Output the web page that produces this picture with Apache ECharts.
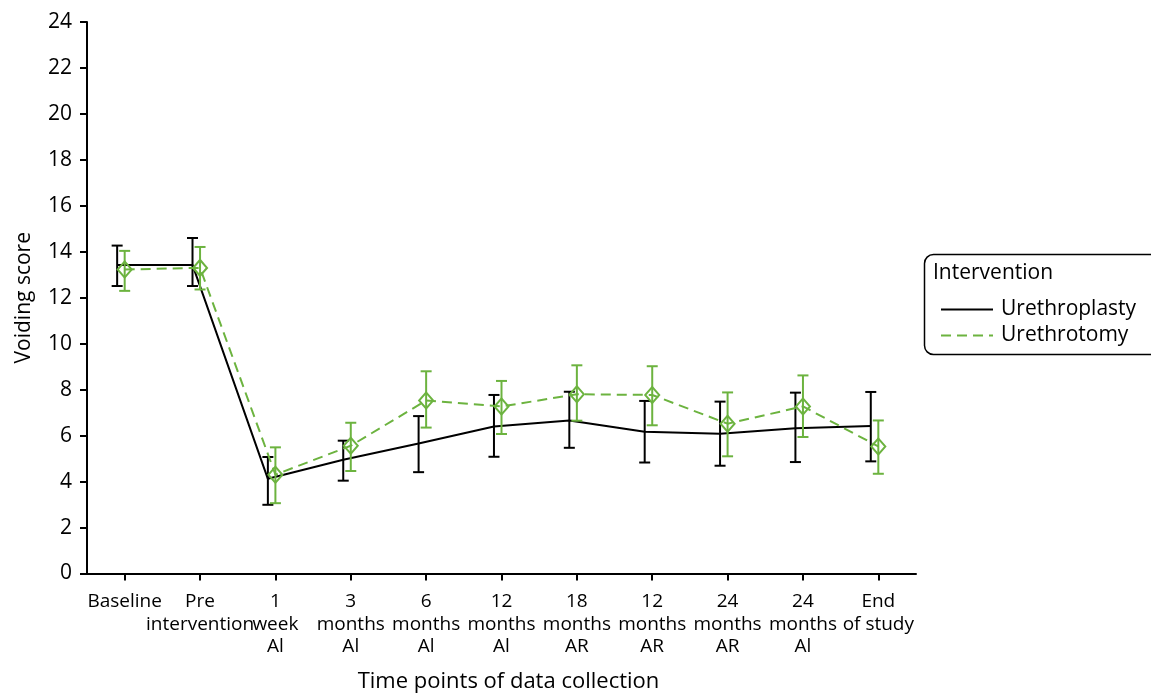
<!DOCTYPE html>
<html>
<head>
<meta charset="utf-8">
<script src="https://cdn.jsdelivr.net/npm/echarts@6/dist/echarts.min.js"></script>
<style>
html,body{margin:0;padding:0;background:#fff;}
#chart{width:1151px;height:693px;}
</style>
</head>
<body>
<div id="chart"></div>
<script>
const categories = ['Baseline', 'Pre\nintervention', '1\nweek\nAl', '3\nmonths\nAl', '6\nmonths\nAl', '12\nmonths\nAl', '18\nmonths\nAR', '12\nmonths\nAR', '24\nmonths\nAR', '24\nmonths\nAl', 'End\nof study'];
const yTicks = [0, 2, 4, 6, 8, 10, 12, 14, 16, 18, 20, 22, 24];

const urethroplastyMean = [13.43, 13.43, 4.12, 4.95, 5.66, 6.40, 6.66, 6.17, 6.08, 6.32, 6.42];
const urethroplastyLow  = [12.51, 12.51, 2.99, 4.04, 4.41, 5.08, 5.47, 4.83, 4.69, 4.85, 4.88];
const urethroplastyHigh = [14.27, 14.60, 5.07, 5.78, 6.85, 7.77, 7.91, 7.51, 7.48, 7.87, 7.90];

const urethrotomyMean = [13.23, 13.30, 4.30, 5.56, 7.53, 7.27, 7.80, 7.77, 6.52, 7.27, 5.53];
const urethrotomyLow  = [12.30, 12.36, 3.06, 4.46, 6.35, 6.07, 6.65, 6.45, 5.10, 5.94, 4.34];
const urethrotomyHigh = [14.04, 14.21, 5.49, 6.56, 8.80, 8.38, 9.06, 9.02, 7.88, 8.62, 6.66];

const BLACK = '#000000';
const GREEN = '#6cb33f';
const TEXT = '#000000';
const FONT = 'Open Sans';
const offsetBlack = -0.1;

const idx = categories.map((c, i) => i);
const evenIdx = idx.filter(i => i % 2 === 0);
const oddIdx = idx.filter(i => i % 2 === 1);
const blackLine = idx.map(i => [i + offsetBlack, urethroplastyMean[i]]);
const greenLine = idx.map(i => [i, urethrotomyMean[i]]);
const blackErr = idx.map(i => [i + offsetBlack, urethroplastyLow[i], urethroplastyHigh[i]]);
const greenErr = idx.map(i => [i, urethrotomyLow[i], urethrotomyHigh[i]]);

function errRender(color) {
  return function (params, api) {
    const x = api.value(0);
    const lo = api.coord([x, api.value(1)]);
    const hi = api.coord([x, api.value(2)]);
    const hw = 5.5;
    const style = { stroke: color, lineWidth: 2, fill: null };
    return {
      type: 'group',
      children: [
        { type: 'line', shape: { x1: hi[0], y1: hi[1], x2: lo[0], y2: lo[1] }, style: style },
        { type: 'line', shape: { x1: hi[0] - hw, y1: hi[1], x2: hi[0] + hw, y2: hi[1] }, style: style },
        { type: 'line', shape: { x1: lo[0] - hw, y1: lo[1], x2: lo[0] + hw, y2: lo[1] }, style: style }
      ]
    };
  };
}

const xLabelStyle = {
  formatter: v => categories[Math.round(v)] || '',
  fontFamily: FONT, fontSize: 19, color: TEXT, lineHeight: 22.5, margin: 17, align: 'center',
  showMinLabel: true, showMaxLabel: true, hideOverlap: false
};

const chart = echarts.init(document.getElementById('chart'), null, { renderer: 'canvas' });
chart.setOption({
  animation: false,
  backgroundColor: '#ffffff',
  textStyle: { fontFamily: FONT },
  grid: { left: 87, right: 235, top: 22, bottom: 119.5, containLabel: false, outerBoundsMode: 'none' },
  xAxis: [
    {
      type: 'value',
      min: -0.5,
      max: 10.5,
      position: 'bottom',
      splitLine: { show: false },
      axisLine: { show: true, onZero: false, lineStyle: { color: BLACK, width: 2 } },
      axisTick: { show: true, customValues: idx, length: 7, lineStyle: { color: BLACK, width: 2 } },
      axisLabel: Object.assign({ customValues: evenIdx }, xLabelStyle),
      name: 'Time points of data collection',
      nameLocation: 'middle',
      nameGap: 97,
      nameTextStyle: { fontFamily: FONT, fontSize: 22, color: TEXT, padding: [0, 0, 0, 14] }
    },
    {
      type: 'value',
      min: -0.5,
      max: 10.5,
      position: 'bottom',
      offset: 0,
      splitLine: { show: false },
      axisLine: { show: false, onZero: false },
      axisTick: { show: false },
      axisLabel: Object.assign({ customValues: oddIdx }, xLabelStyle)
    }
  ],
  yAxis: {
    type: 'value',
    min: 0,
    max: 24,
    interval: 2,
    splitLine: { show: false },
    axisLine: { show: true, onZero: false, lineStyle: { color: BLACK, width: 2 } },
    axisTick: { show: true, length: 7, lineStyle: { color: BLACK, width: 2 } },
    axisLabel: { fontFamily: FONT, fontSize: 21, color: TEXT, margin: 15,
      formatter: v => (yTicks.indexOf(v) >= 0 ? String(v) : '') },
    name: 'Voiding score',
    nameLocation: 'middle',
    nameGap: 52,
    nameTextStyle: { fontFamily: FONT, fontSize: 21, color: TEXT }
  },
  legend: {
    orient: 'vertical',
    left: 935,
    top: 294,
    itemWidth: 52,
    itemHeight: 14,
    itemGap: 5,
    itemStyle: { opacity: 0 },
    textStyle: { fontFamily: FONT, fontSize: 21, color: TEXT, padding: [0, 0, 0, 3] },
    data: ['Urethroplasty', 'Urethrotomy']
  },
  graphic: [
    {
      type: 'rect', left: 922, top: 252, z: 100,
      shape: { width: 240, height: 100, r: 9 },
      style: { fill: null, stroke: BLACK, lineWidth: 1.5 }
    },
    {
      type: 'text', left: 933, top: 263, z: 100,
      style: { text: 'Intervention', fontFamily: FONT, fontSize: 21, fill: TEXT }
    }
  ],
  series: [
    {
      name: 'Urethroplasty',
      type: 'line',
      data: blackLine,
      symbol: 'none',
      lineStyle: { color: BLACK, width: 2 },
      itemStyle: { color: BLACK },
      z: 3
    },
    {
      name: 'UrethroplastyErr',
      type: 'custom',
      data: blackErr,
      renderItem: errRender(BLACK),
      encode: { x: 0, y: [1, 2] },
      z: 3
    },
    {
      name: 'Urethrotomy',
      type: 'line',
      data: greenLine,
      symbol: 'diamond',
      symbolSize: [14, 16],
      lineStyle: { color: GREEN, width: 2, type: [10, 6] },
      itemStyle: { color: 'rgba(0,0,0,0)', borderColor: GREEN, borderWidth: 2 },
      z: 4
    },
    {
      name: 'UrethrotomyErr',
      type: 'custom',
      data: greenErr,
      renderItem: errRender(GREEN),
      encode: { x: 0, y: [1, 2] },
      z: 4
    }
  ]
});
</script>
</body>
</html>
